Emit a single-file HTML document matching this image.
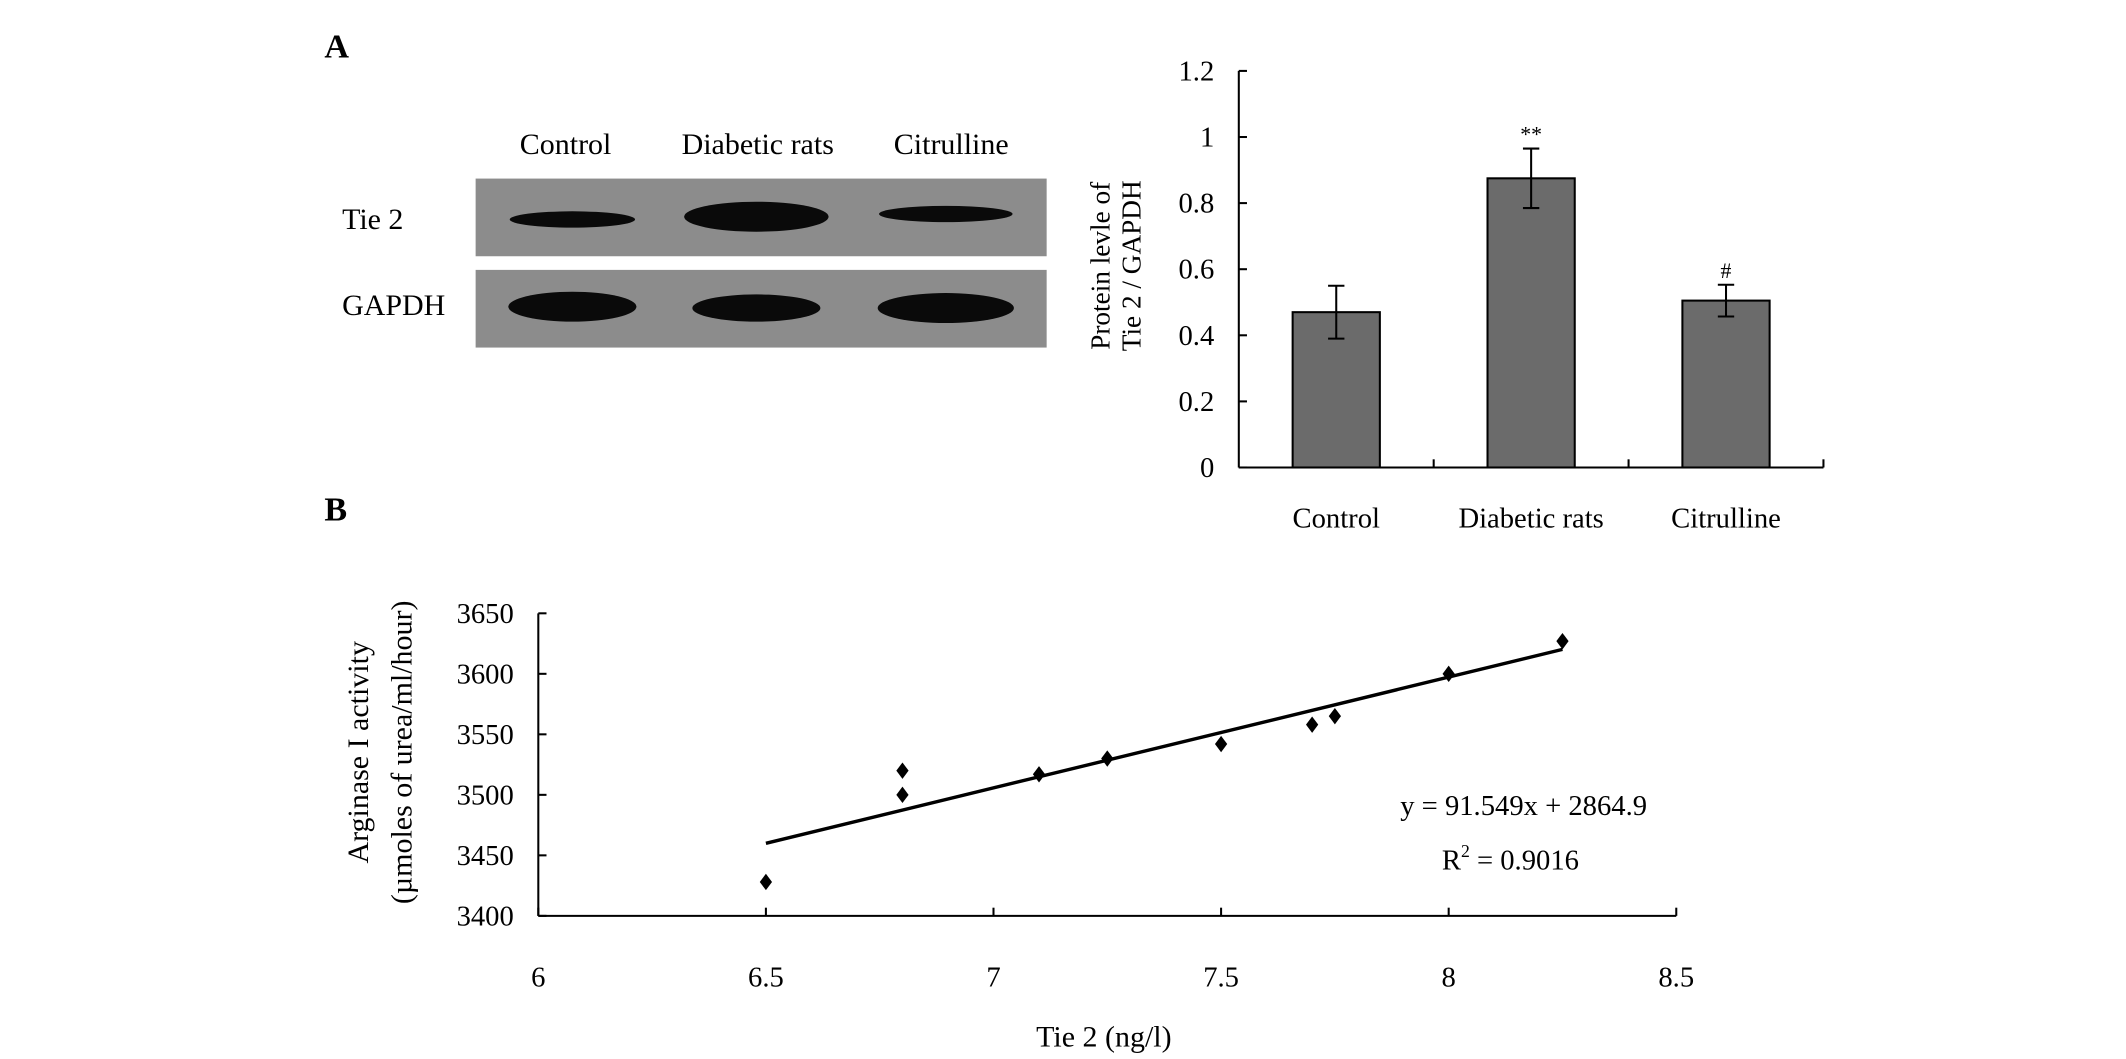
<!DOCTYPE html>
<html><head><meta charset="utf-8"><style>
html,body{margin:0;padding:0;background:#fff;}
svg{display:block;font-family:"Liberation Serif",serif;}
</style></head><body>
<svg width="2126" height="1059" viewBox="0 0 1560 777">
<text x="238" y="42" font-size="25" font-weight="bold">A</text>
<text x="238" y="382" font-size="25" font-weight="bold">B</text>
<g font-size="22">
<text x="415" y="113" text-anchor="middle">Control</text>
<text x="556" y="113" text-anchor="middle">Diabetic rats</text>
<text x="698" y="113" text-anchor="middle">Citrulline</text>
<text x="251" y="168">Tie 2</text>
<text x="251" y="231">GAPDH</text>
<rect x="349" y="131" width="419" height="57" fill="#8c8c8c"/>
<rect x="349" y="198" width="419" height="57" fill="#8c8c8c"/>
<ellipse cx="420" cy="161" rx="46" ry="6" fill="#0a0a0a"/>
<ellipse cx="555" cy="159" rx="53" ry="11" fill="#0a0a0a"/>
<ellipse cx="694" cy="157" rx="49" ry="6" fill="#0a0a0a"/>
<ellipse cx="420" cy="225" rx="47" ry="11" fill="#0a0a0a"/>
<ellipse cx="555" cy="226" rx="47" ry="10" fill="#0a0a0a"/>
<ellipse cx="694" cy="226" rx="50" ry="11" fill="#0a0a0a"/>
</g>
<g id="bar"></g>
<g id="sc"></g>
<script>
const barCats=["Control","Diabetic rats","Citrulline"];
const barVals=[0.47,0.875,0.505];
const barErr=[0.08,0.09,0.048];
const barMarks=["","**","#"];
const barTicks=[0,0.2,0.4,0.6,0.8,1,1.2];
const scX=[6.5,6.8,6.8,7.1,7.25,7.5,7.7,7.75,8.0,8.25];
const scY=[3428,3520,3500,3517,3530,3542,3558,3565,3600,3627];
const scXTicks=[6,6.5,7,7.5,8,8.5];
const scYTicks=[3400,3450,3500,3550,3600,3650];
const fitSlope=[91.549];
const fitIntercept=[2864.9];
const NS="http://www.w3.org/2000/svg";
function mk(p,t,a,txt){const e=document.createElementNS(NS,t);for(const k in a)e.setAttribute(k,a[k]);if(txt!==undefined)e.textContent=txt;p.appendChild(e);return e;}
const bg=document.getElementById('bar');
const bx0=909,bx1=1338,by0=343,by1=52;
const byS=v=>by0-(v/1.2)*(by0-by1);
const bw=(bx1-bx0)/barCats.length;
let e;
e=mk(bg,'line',{x1:bx0,y1:by1,x2:bx0,y2:by0,stroke:'#000','stroke-width':1.5});


e=mk(bg,'line',{x1:bx0,y1:by0,x2:bx1,y2:by0,stroke:'#000','stroke-width':1.5});


barTicks.forEach(t=>{const y=byS(t);
mk(bg,'line',{x1:bx0,y1:y,x2:bx0+6,y2:y,stroke:'#000','stroke-width':1.5});
e=mk(bg,'text',{x:891,y:y+7,'font-size':21,'text-anchor':'end'},String(t));

});
for(let i=1;i<=barCats.length;i++){mk(bg,'line',{x1:bx0+i*bw,y1:by0,x2:bx0+i*bw,y2:by0-6,stroke:'#000','stroke-width':1.5});}
barCats.forEach((c,i)=>{const cx=bx0+bw*(i+0.5),w=64,y=byS(barVals[i]);
e=mk(bg,'rect',{x:cx-w/2,y:y,width:w,height:by0-y,fill:'#6b6b6b',stroke:'#000','stroke-width':1.5});


const yh=byS(barVals[i]+barErr[i]),yl=byS(barVals[i]-barErr[i]);
mk(bg,'line',{x1:cx,y1:yh,x2:cx,y2:yl,stroke:'#000','stroke-width':1.5});
mk(bg,'line',{x1:cx-6,y1:yh,x2:cx+6,y2:yh,stroke:'#000','stroke-width':1.5});
mk(bg,'line',{x1:cx-6,y1:yl,x2:cx+6,y2:yl,stroke:'#000','stroke-width':1.5});
if(barMarks[i]){e=mk(bg,'text',{x:cx,y:yh-5,'font-size':16,'text-anchor':'middle'},barMarks[i]);

}
e=mk(bg,'text',{x:cx,y:387,'font-size':21,'text-anchor':'middle'},c);

});
e=mk(bg,'text',{transform:'translate(814,195) rotate(-90)','font-size':20,'text-anchor':'middle'},'Protein levle of');


e=mk(bg,'text',{transform:'translate(837,195) rotate(-90)','font-size':20,'text-anchor':'middle'},'Tie 2 / GAPDH');


const sg=document.getElementById('sc');
const sx0=395,sx1=1230,sy0=672,sy1=450;
const sxS=v=>sx0+(v-6)/2.5*(sx1-sx0);
const syS=v=>sy0-(v-3400)/250*(sy0-sy1);
e=mk(sg,'line',{x1:sx0,y1:sy1,x2:sx0,y2:sy0,stroke:'#000','stroke-width':1.5});


e=mk(sg,'line',{x1:sx0,y1:sy0,x2:sx1,y2:sy0,stroke:'#000','stroke-width':1.5});


scYTicks.forEach(t=>{const y=syS(t);mk(sg,'line',{x1:sx0,y1:y,x2:sx0+6,y2:y,stroke:'#000','stroke-width':1.5});
e=mk(sg,'text',{x:377,y:y+7,'font-size':21,'text-anchor':'end'},String(t));

});
scXTicks.forEach(t=>{const x=sxS(t);mk(sg,'line',{x1:x,y1:sy0,x2:x,y2:sy0-6,stroke:'#000','stroke-width':1.5});
e=mk(sg,'text',{x:x,y:724,'font-size':21,'text-anchor':'middle'},String(t));

});
const xmin=Math.min(...scX),xmax=Math.max(...scX);
e=mk(sg,'line',{x1:sxS(xmin),y1:syS(fitSlope[0]*xmin+fitIntercept[0]),x2:sxS(xmax),y2:syS(fitSlope[0]*xmax+fitIntercept[0]),stroke:'#000','stroke-width':2.5});


scX.forEach((x,i)=>{const px=sxS(x),py=syS(scY[i]);
e=mk(sg,'polygon',{points:`${px},${py-6} ${px+4.5},${py} ${px},${py+6} ${px-4.5},${py}`,fill:'#000'});

});
e=mk(sg,'text',{x:1118,y:598,'font-size':21,'text-anchor':'middle'},'y = 91.549x + 2864.9');


e=mk(sg,'text',{x:1058,y:638,'font-size':21},'R');


mk(e,'tspan',{dy:-9,'font-size':13},'2');
mk(e,'tspan',{dy:9},' = 0.9016');
e=mk(sg,'text',{x:810,y:768,'font-size':22,'text-anchor':'middle'},'Tie 2 (ng/l)');


e=mk(sg,'text',{transform:'translate(270,552) rotate(-90)','font-size':22,'text-anchor':'middle'},'Arginase I activity');


e=mk(sg,'text',{transform:'translate(302,552) rotate(-90)','font-size':22,'text-anchor':'middle'},'(µmoles of urea/ml/hour)');


</script>
</svg>
</body></html>
